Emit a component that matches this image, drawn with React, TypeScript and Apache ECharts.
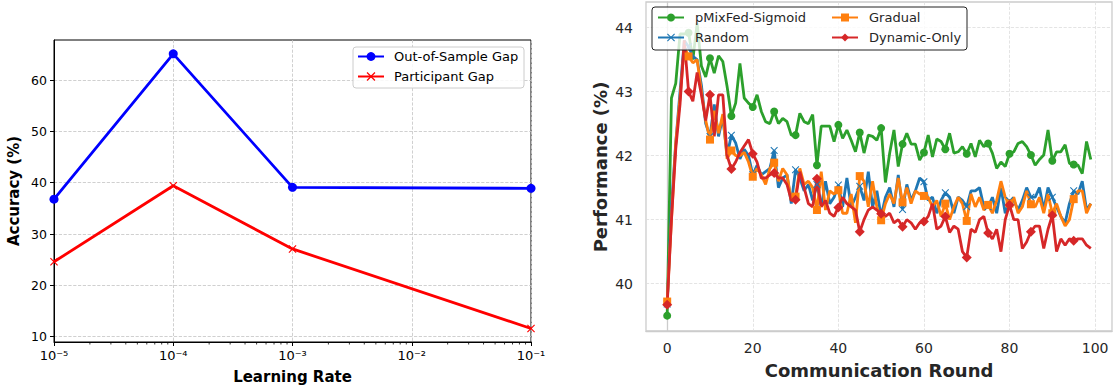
import React, { useEffect, useRef } from 'react';
import * as echarts from 'echarts';

// ---------- Left chart data ----------
const learningRates = [1e-5, 1e-4, 1e-3, 1e-1];
const outOfSampleGap = [36.8, 65.1, 39.1, 38.9];
const participantGap = [24.6, 39.4, 27.1, 11.6];
const accuracyTicks = [10, 20, 30, 40, 50, 60];
const lrDecades = [1e-5, 1e-4, 1e-3, 1e-2];
const lrMinorMultipliers = [2, 3, 4, 5, 6, 7, 8, 9];

// ---------- Right chart data (rounds 0..99) ----------
const sigmoid = [
  39.5, 42.9, 43.13, 43.9, 43.9, 43.92, 43.5, 44.07, 43.4, 43.23,
  43.52, 43.29, 43.56, 43.47, 43.08, 42.62, 42.82, 43.44, 42.9, 42.82,
  42.76, 42.95, 42.69, 42.53, 42.5, 42.69, 42.5, 42.58, 42.53, 42.32,
  42.32, 42.66, 42.53, 42.5, 42.64, 41.85, 42.46, 42.46, 42.46, 42.22,
  42.48, 42.27, 42.4, 42.24, 42.06, 42.36, 42.04, 42.32, 42.3, 42.24,
  42.43, 41.58, 42.04, 42.4, 41.83, 42.18, 42.35, 42.18, 42.18, 41.93,
  42.05, 42.32, 41.98, 42.26, 42.22, 42.1, 42.35, 42.04, 42.06, 42.14,
  42.03, 42.19, 41.98, 42.24, 42.14, 42.19, 42.04, 41.8, 41.9, 41.83,
  42.03, 42.06, 42.19, 42.22, 42.14, 42.01, 41.85, 41.94, 42.01, 42.4,
  41.92, 42.06, 42.06, 42.17, 41.88, 41.86, 41.85, 41.72, 42.22, 41.94,
];
const random = [
  39.68, 41.2, 42.2, 43.0, 43.8, 43.7, 43.55, 43.5, 43.1, 42.5,
  42.3, 42.8, 42.3, 42.6, 42.0, 42.32, 42.2, 41.95, 42.1, 42.0,
  41.7, 41.85, 41.7, 41.75, 41.8, 42.08, 41.5, 41.65, 41.7, 41.25,
  41.78, 41.65, 41.45, 41.55, 41.3, 41.55, 41.2, 41.6, 41.25, 41.35,
  41.54, 41.2, 41.65, 41.2, 41.35, 41.52, 41.3, 41.75, 41.2, 41.45,
  41.05, 41.35, 41.5, 41.2, 41.7, 41.16, 41.55, 41.3, 41.45, 41.65,
  41.59, 41.3, 41.35, 41.1, 41.3, 41.42, 41.35, 41.1, 41.35, 41.3,
  41.2, 41.45, 41.45, 41.5, 41.2, 41.2, 41.35, 41.1, 41.5, 41.1,
  41.3, 41.3, 41.15, 41.3, 41.5, 41.35, 41.35, 41.5, 41.15, 41.5,
  41.35, 41.2, 41.05, 40.95, 41.25, 41.45, 41.4, 41.6, 41.15, 41.25,
];
const gradual = [
  39.72, 41.0, 42.2, 42.9, 43.7, 43.55, 43.45, 43.5, 43.0, 42.55,
  42.25, 42.7, 42.35, 42.65, 41.95, 42.08, 42.0, 42.0, 42.05, 41.9,
  41.67, 41.8, 41.7, 41.55, 41.8, 41.89, 41.6, 41.8, 41.7, 41.3,
  41.36, 41.8, 41.55, 41.6, 41.5, 41.15, 41.75, 41.15, 41.45, 41.4,
  41.46, 41.1, 41.1, 41.4, 40.95, 41.68, 41.6, 41.2, 41.6, 41.2,
  40.99, 41.25, 41.4, 41.25, 41.65, 41.27, 41.5, 41.25, 41.45, 41.4,
  41.37, 41.35, 41.2, 41.3, 41.05, 41.25, 41.0, 41.2, 41.35, 41.25,
  40.98, 41.4, 41.2, 41.35, 41.15, 41.23, 41.1, 41.3, 41.6, 41.35,
  41.25, 41.35, 41.1, 41.2, 41.45, 41.24, 41.2, 41.35, 41.1, 41.4,
  41.1, 41.25, 41.05, 40.9, 41.0, 41.32, 41.45, 41.45, 41.1, 41.25,
];
const dynamicOnly = [
  39.67, 41.0, 42.1, 42.8, 43.8, 43.0, 42.85, 43.3, 42.95, 42.55,
  42.95, 42.3, 42.95, 42.95, 42.0, 41.79, 41.9, 42.05, 42.15, 42.25,
  42.03, 41.9, 41.65, 41.65, 41.7, 41.73, 41.65, 41.65, 41.55, 41.3,
  41.31, 41.75, 41.5, 41.25, 41.2, 41.64, 41.2, 41.3, 41.1, 41.05,
  41.19, 41.35, 41.25, 41.2, 41.15, 40.81, 41.0, 41.15, 41.2, 41.15,
  41.09, 41.05, 41.1, 40.95, 41.0, 40.89, 41.0, 40.95, 40.85, 40.95,
  40.97, 41.05, 41.25, 40.85, 40.9, 41.05, 40.8, 40.9, 40.85, 40.5,
  40.41, 40.85, 40.8, 41.0, 41.05, 40.79, 40.7, 40.85, 40.5, 41.0,
  41.23, 41.0, 41.0, 40.55, 40.65, 40.81, 40.9, 40.9, 40.55, 40.85,
  41.07, 40.5, 40.7, 40.6, 40.7, 40.67, 40.7, 40.7, 40.6, 40.55,
];
const roundTicks = [0, 20, 40, 60, 80, 100];
const perfTicks = [40, 41, 42, 43, 44];

const FONT = 'DejaVu Sans';
const SUP: Record<string, string> = { '-': '\u207b', '0': '\u2070', '1': '\u00b9', '2': '\u00b2', '3': '\u00b3', '4': '\u2074', '5': '\u2075', '6': '\u2076', '7': '\u2077', '8': '\u2078', '9': '\u2079' };
const X_PATH = 'path://M1,0 L5,4 L9,0 L10,1 L6,5 L10,9 L9,10 L5,6 L1,10 L0,9 L4,5 L0,1 Z';

const L_YMIN = 8.97;
const L_YMAX = 67.8;

function markEvery(vals: number[]) {
  return vals.map((v, i) => (i % 5 === 0 ? { value: [i, v] } : { value: [i, v], symbol: 'none' }));
}

function buildOption(): any {
  const minorTicks = lrDecades.flatMap((d) => lrMinorMultipliers.map((m) => [m * d, L_YMIN]));
  const rightSeries = [
    { name: 'pMixFed-Sigmoid', data: sigmoid, color: '#2ca02c', symbol: 'circle', size: 8 },
    { name: 'Random', data: random, color: '#1f77b4', symbol: X_PATH, size: 7.5 },
    { name: 'Gradual', data: gradual, color: '#ff7f0e', symbol: 'rect', size: 8 },
    { name: 'Dynamic-Only', data: dynamicOnly, color: '#d62728', symbol: 'diamond', size: 10 },
  ].map((s) => ({
    type: 'line',
    name: s.name,
    xAxisIndex: 1,
    yAxisIndex: 1,
    data: markEvery(s.data),
    symbol: s.symbol,
    symbolSize: s.size,
    showAllSymbol: true,
    color: s.color,
    lineStyle: { width: 2.8, color: s.color },
    itemStyle: { color: s.color },
    z: 2,
  }));

  return {
    animation: false,
    backgroundColor: '#ffffff',
    textStyle: { fontFamily: FONT },
    grid: [
      { left: 54, top: 40, width: 477, height: 302, show: true, borderColor: '#000', borderWidth: 1, backgroundColor: 'transparent' },
      { left: 646, top: 2, width: 466, height: 329, show: true, borderColor: '#cccccc', borderWidth: 1.3, backgroundColor: 'transparent' },
    ],
    xAxis: [
      {
        type: 'log', logBase: 10, gridIndex: 0, min: 1e-5, max: 1e-1,
        axisLine: { show: true, lineStyle: { color: '#000', width: 1 } },
        axisTick: { show: true, length: 4, lineStyle: { color: '#000', width: 1 } },
        axisLabel: {
          fontSize: 13, color: '#000', fontFamily: FONT, margin: 7,
          formatter: (v: number) => {
            const e = String(Math.round(Math.log10(v)));
            return '10' + e.split('').map((c) => SUP[c] || c).join('');
          },
        },
        splitLine: { show: true, lineStyle: { type: 'dashed', color: '#c4c4c4', width: 0.8 } },
      },
      {
        type: 'value', gridIndex: 1, min: -4.95, max: 103.95,
        axisLine: { show: true, lineStyle: { color: '#cccccc', width: 1.3 } },
        axisTick: { show: false, customValues: roundTicks },
        axisLabel: { customValues: roundTicks, fontSize: 14, color: '#262626', fontFamily: FONT, margin: 10 },
        splitLine: { show: true, lineStyle: { type: 'dashed', color: '#dddddd', width: 0.8 } },
      },
    ],
    yAxis: [
      {
        type: 'value', gridIndex: 0, min: L_YMIN, max: L_YMAX,
        axisLine: { show: true, lineStyle: { color: '#000', width: 1 } },
        axisTick: { show: true, length: 4, customValues: accuracyTicks, lineStyle: { color: '#000', width: 1 } },
        axisLabel: { customValues: accuracyTicks, fontSize: 12.5, color: '#000', fontFamily: FONT, margin: 7 },
        splitLine: { show: true, lineStyle: { type: 'dashed', color: '#c4c4c4', width: 0.8 } },
      },
      {
        type: 'value', gridIndex: 1, min: 39.26, max: 44.4,
        axisLine: { show: true, lineStyle: { color: '#cccccc', width: 1.3 } },
        axisTick: { show: false, customValues: perfTicks },
        axisLabel: { customValues: perfTicks, fontSize: 14, color: '#262626', fontFamily: FONT, margin: 13 },
        splitLine: { show: true, lineStyle: { type: 'dashed', color: '#dddddd', width: 0.8 } },
      },
    ],
    legend: [
      {
        data: ['Out-of-Sample Gap', 'Participant Gap'],
        orient: 'vertical', left: 357, top: 50, itemWidth: 26, itemHeight: 11, itemGap: 7,
        padding: 0, selectedMode: false,
        textStyle: { fontSize: 13, color: '#000', fontFamily: FONT, padding: [0, 0, 0, 5] },
      },
      {
        data: ['pMixFed-Sigmoid', 'Random'],
        orient: 'vertical', left: 657, top: 11, itemWidth: 26, itemHeight: 10, itemGap: 7,
        padding: 0, selectedMode: false,
        textStyle: { fontSize: 13, color: '#262626', fontFamily: FONT, padding: [0, 0, 0, 6] },
      },
      {
        data: ['Gradual', 'Dynamic-Only'],
        orient: 'vertical', left: 831, top: 11, itemWidth: 26, itemHeight: 10, itemGap: 7,
        padding: 0, selectedMode: false,
        textStyle: { fontSize: 13, color: '#262626', fontFamily: FONT, padding: [0, 0, 0, 6] },
      },
    ],
    graphic: [
      { type: 'rect', z: 3, shape: { x: 353, y: 47, width: 171, height: 41, r: 3 }, style: { fill: 'rgba(255,255,255,0.85)', stroke: '#cccccc', lineWidth: 1 } },
      { type: 'rect', z: 3, shape: { x: 652, y: 7, width: 315, height: 43, r: 3 }, style: { fill: 'rgba(255,255,255,0.8)', stroke: '#222222', lineWidth: 1 } },
      { type: 'text', z: 5, x: 292.5, y: 377, style: { text: 'Learning Rate', fontSize: 15, fontWeight: 'bold', fontFamily: FONT, fill: '#000', align: 'center', verticalAlign: 'middle' } },
      { type: 'text', z: 5, x: 14, y: 191, rotation: Math.PI / 2, style: { text: 'Accuracy (%)', fontSize: 15, fontWeight: 'bold', fontFamily: FONT, fill: '#000', align: 'center', verticalAlign: 'middle' } },
      { type: 'text', z: 5, x: 879, y: 370, style: { text: 'Communication Round', fontSize: 18, fontWeight: 'bold', fontFamily: FONT, fill: '#262626', align: 'center', verticalAlign: 'middle' } },
      { type: 'text', z: 5, x: 600, y: 167, rotation: Math.PI / 2, style: { text: 'Performance (%)', fontSize: 18, fontWeight: 'bold', fontFamily: FONT, fill: '#262626', align: 'center', verticalAlign: 'middle' } },
    ],
    series: [
      {
        type: 'line', name: 'Out-of-Sample Gap', xAxisIndex: 0, yAxisIndex: 0,
        data: learningRates.map((x, i) => [x, outOfSampleGap[i]]),
        symbol: 'circle', symbolSize: 9, color: '#0000ff',
        lineStyle: { width: 2.8, color: '#0000ff' }, itemStyle: { color: '#0000ff' }, z: 2,
      },
      {
        type: 'line', name: 'Participant Gap', xAxisIndex: 0, yAxisIndex: 0,
        data: learningRates.map((x, i) => [x, participantGap[i]]),
        symbol: X_PATH, symbolSize: 8, color: '#ff0000',
        lineStyle: { width: 2.8, color: '#ff0000' }, itemStyle: { color: '#ff0000' }, z: 2,
      },
      {
        type: 'custom', name: 'minorTicks', xAxisIndex: 0, yAxisIndex: 0, silent: true,
        data: minorTicks,
        renderItem: (params: any, api: any) => {
          const p = api.coord([api.value(0), api.value(1)]);
          return { type: 'line', shape: { x1: p[0], y1: p[1], x2: p[0], y2: p[1] + 2.5 }, style: { stroke: '#000', lineWidth: 0.8 } };
        },
        z: 3,
      },
      ...rightSeries,
    ],
  };
}

export default function App() {
  const ref = useRef<HTMLDivElement>(null);
  useEffect(() => {
    if (!ref.current) return;
    const chart = echarts.init(ref.current, null, { renderer: 'svg' });
    chart.setOption(buildOption());
    return () => chart.dispose();
  }, []);
  return (
    <div
      ref={ref}
      style={{ position: 'fixed', left: 0, top: 0, width: 1115, height: 387, background: '#ffffff' }}
    />
  );
}
